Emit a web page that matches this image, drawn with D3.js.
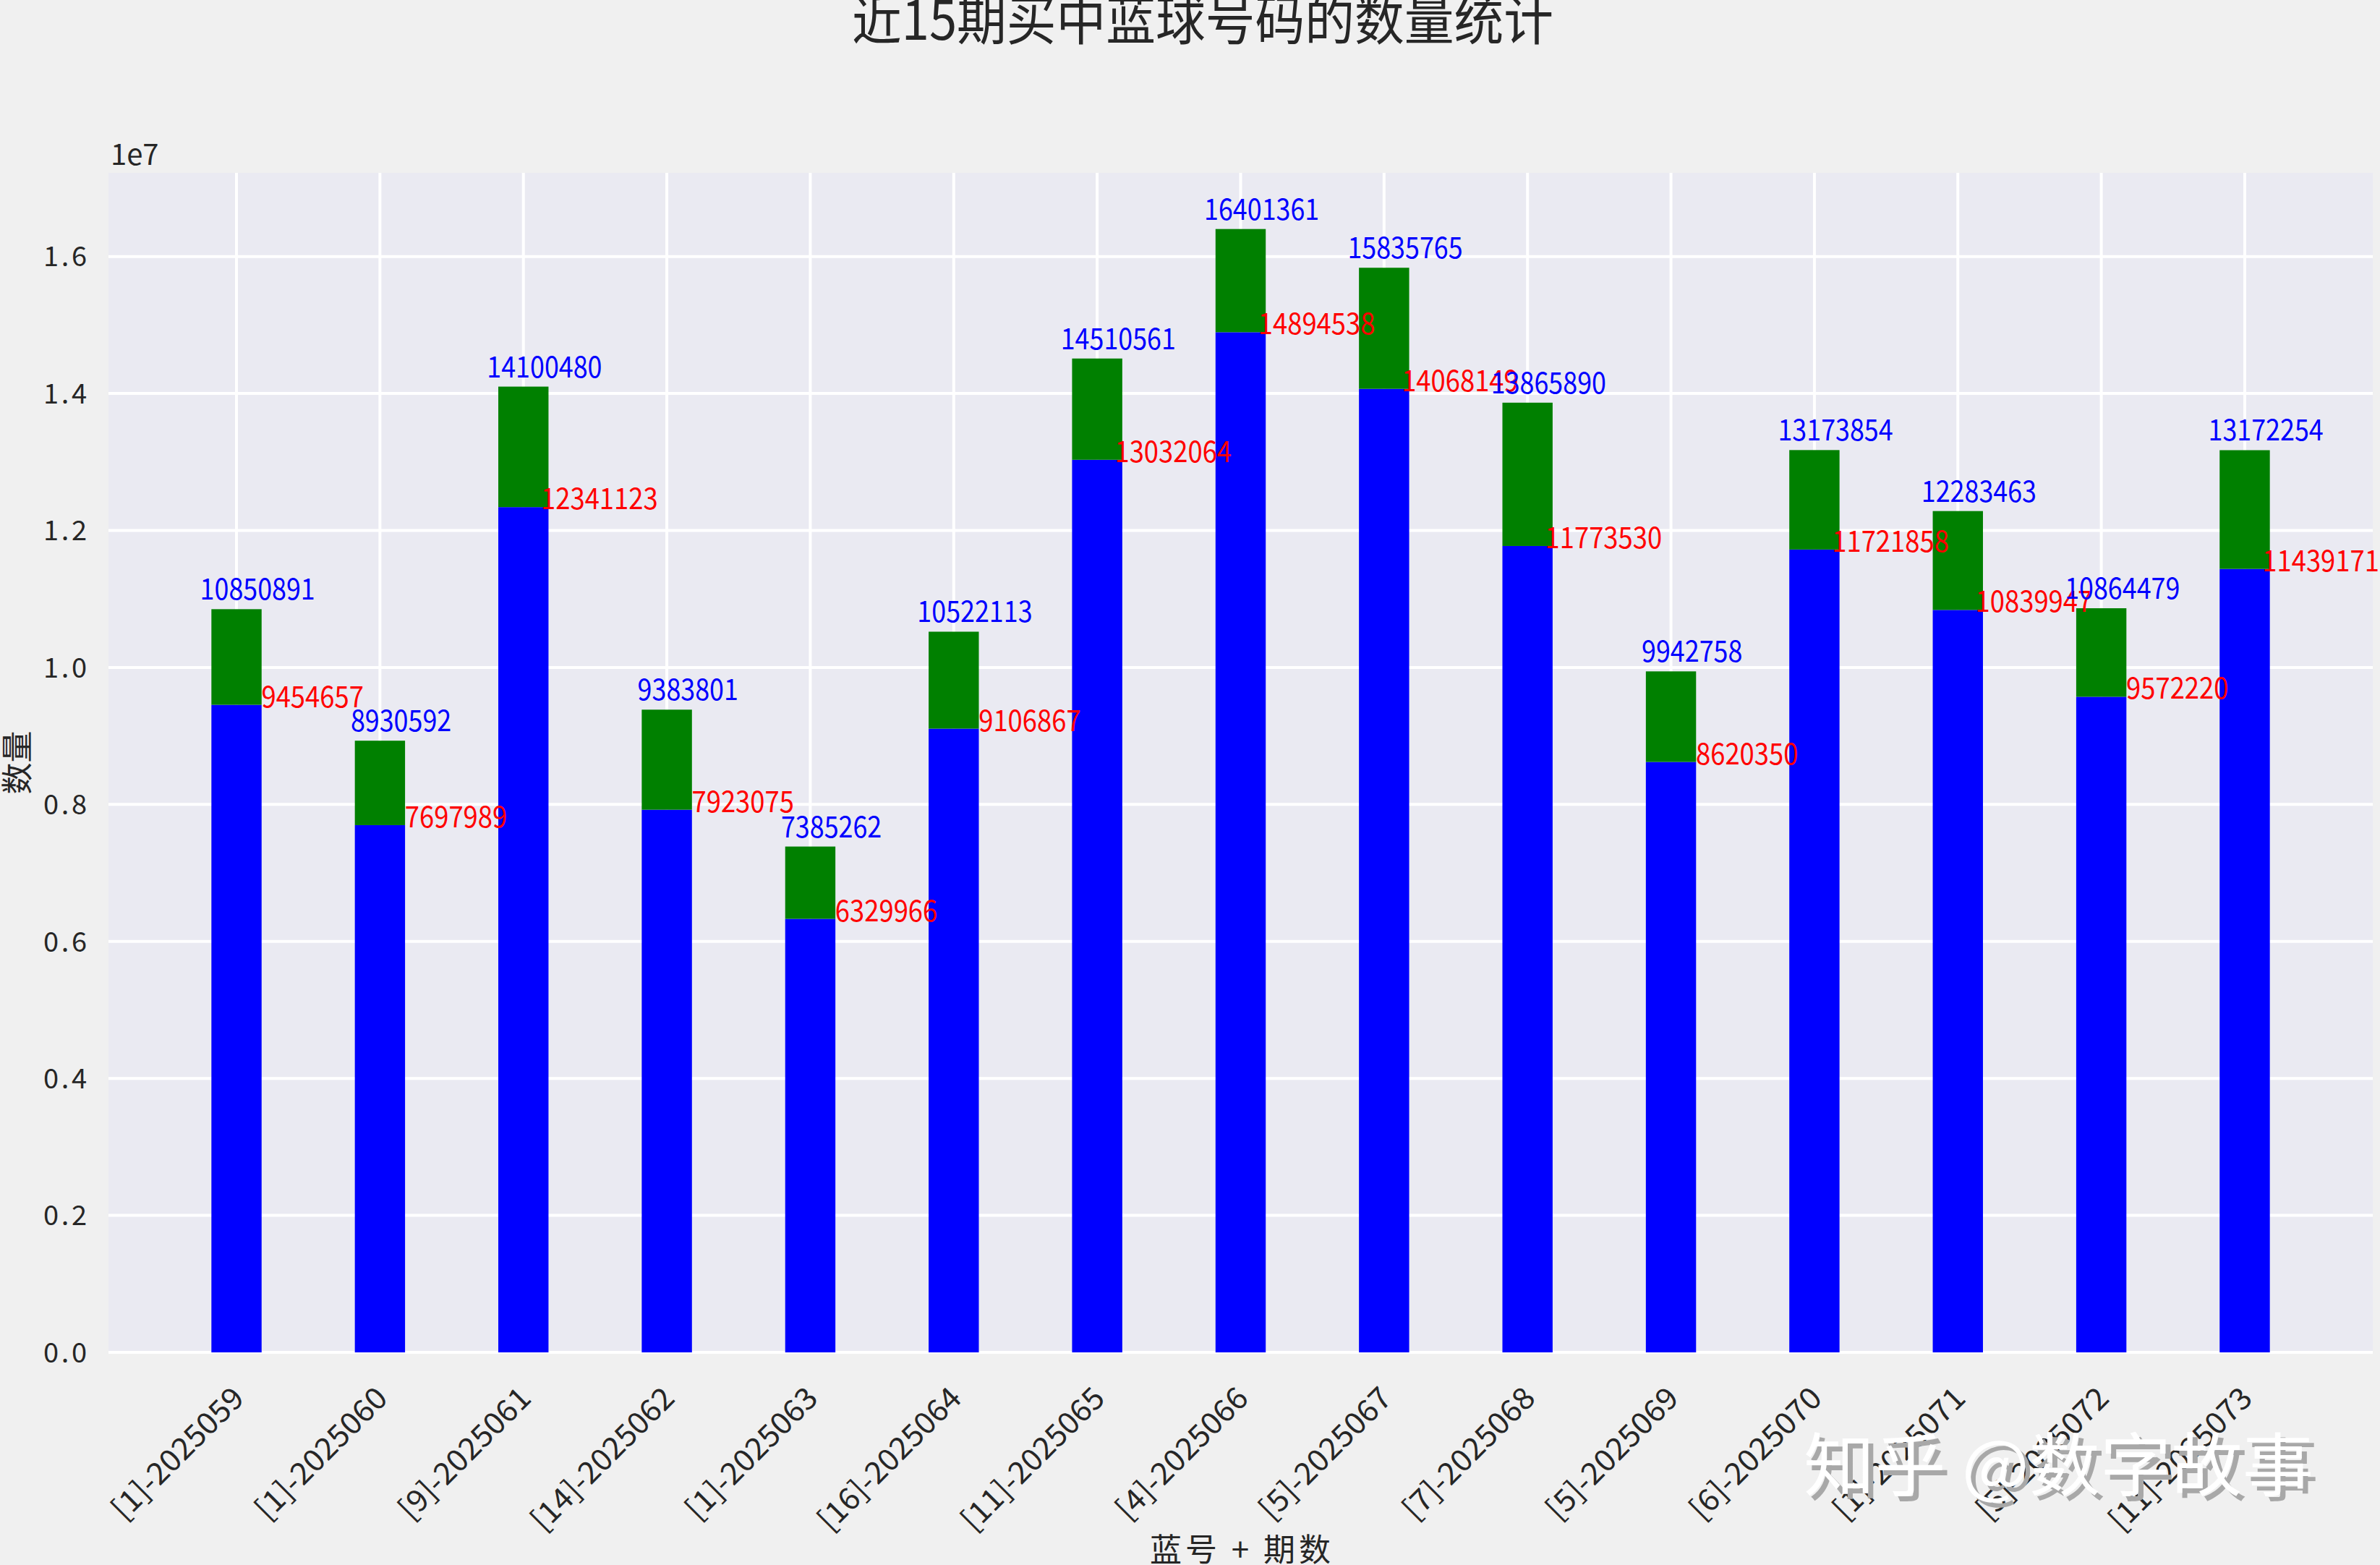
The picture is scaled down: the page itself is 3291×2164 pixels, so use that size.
<!DOCTYPE html>
<html><head><meta charset="utf-8">
<script src="https://cdn.jsdelivr.net/npm/d3@7"></script>
<style>
html,body{margin:0;padding:0;background:#f0f0f0;}
svg{display:block;}
text{font-family:"Noto Sans CJK SC","Noto Sans",sans-serif;}
</style></head>
<body><svg id="chart" width="3291" height="2164"></svg>
<script>
// ---- data ----
const categories = ["[1]-2025059","[1]-2025060","[9]-2025061","[14]-2025062","[1]-2025063","[16]-2025064","[11]-2025065","[4]-2025066","[5]-2025067","[7]-2025068","[5]-2025069","[6]-2025070","[1]-2025071","[5]-2025072","[11]-2025073"];
const totalValues = [10850891,8930592,14100480,9383801,7385262,10522113,14510561,16401361,15835765,13865890,9942758,13173854,12283463,10864479,13172254];
const blueValues  = [9454657,7697989,12341123,7923075,6329966,9106867,13032064,14894538,14068149,11773530,8620350,11721858,10839947,9572220,11439171];
const yTickValues = [0,2e6,4e6,6e6,8e6,10e6,12e6,14e6,16e6];
const yTickLabels = ["0.0","0.2","0.4","0.6","0.8","1.0","1.2","1.4","1.6"];
const titleText = "近15期买中蓝球号码的数量统计";
const xLabelText = "蓝号 + 期数";
const yLabelText = "数量";
const watermarkText = "知乎 @数字故事";

// ---- layout ----
const W = 3291, H = 2164;
const plot = {left:150, right:3281, top:239, bottom:1870};
const barW = 0.35;
const n = categories.length;
const pad = (n - 1 + barW) * 0.05;
const x = d3.scaleLinear().domain([-barW/2 - pad, n - 1 + barW/2 + pad]).range([plot.left, plot.right]);
const yMax = d3.max(totalValues) * 1.05;
const y = d3.scaleLinear().domain([0, yMax]).range([plot.bottom, plot.top]);

const svg = d3.select("#chart");
svg.append("rect").attr("width", W).attr("height", H).attr("fill", "#f0f0f0");
svg.append("rect").attr("x", plot.left).attr("y", plot.top)
   .attr("width", plot.right - plot.left).attr("height", plot.bottom - plot.top)
   .attr("fill", "#eaeaf2");

// grid
const grid = svg.append("g");
grid.selectAll("line.h").data(yTickValues).enter().append("line")
  .attr("x1", plot.left).attr("x2", plot.right)
  .attr("y1", d => y(d)).attr("y2", d => y(d))
  .attr("stroke", "#ffffff").attr("stroke-width", 4);
grid.selectAll("line.v").data(d3.range(n)).enter().append("line")
  .attr("y1", plot.top).attr("y2", plot.bottom)
  .attr("x1", d => x(d)).attr("x2", d => x(d))
  .attr("stroke", "#ffffff").attr("stroke-width", 4);

// bars
const bars = svg.append("g");
bars.selectAll("rect.blue").data(blueValues).enter().append("rect")
  .attr("x", (d,i) => x(i - barW/2)).attr("width", x(barW) - x(0))
  .attr("y", d => y(d)).attr("height", d => y(0) - y(d))
  .attr("fill", "#0000ff");
bars.selectAll("rect.green").data(totalValues).enter().append("rect")
  .attr("x", (d,i) => x(i - barW/2)).attr("width", x(barW) - x(0))
  .attr("y", d => y(d)).attr("height", (d,i) => y(blueValues[i]) - y(d))
  .attr("fill", "#008000");

// value labels
const labels = svg.append("g").attr("font-size", 41);
for (let i = 0; i < n; i++) {
  const r = String(blueValues[i]);
  labels.append("text").attr("x", x(i + 0.53)).attr("y", y(blueValues[i]) + 3)
    .attr("text-anchor", "middle").attr("fill", "#ff0000")
    .attr("textLength", r.length * 20.2).attr("lengthAdjust", "spacingAndGlyphs")
    .text(r);
  const b = String(totalValues[i]);
  labels.append("text").attr("x", x(i + 0.147)).attr("y", y(totalValues[i]) - 13)
    .attr("text-anchor", "middle").attr("fill", "#0000ff")
    .attr("textLength", b.length * 19.9).attr("lengthAdjust", "spacingAndGlyphs")
    .text(b);
}

// y axis
const yAxis = d3.axisLeft(y).tickValues(yTickValues).tickSize(0).tickPadding(0)
  .tickFormat((d,i) => yTickLabels[i]);
const yg = svg.append("g").attr("transform", `translate(120,0)`).call(yAxis);
yg.select(".domain").remove();
yg.selectAll("text").attr("font-size", 38).attr("fill", "#262626")
  .attr("font-family", '"Noto Sans CJK SC",sans-serif')
  .attr("textLength", 60).attr("lengthAdjust", "spacing").attr("dy", "0.35em").attr("x", 0);

// x axis
const xAxis = d3.axisBottom(x).tickValues(d3.range(n)).tickSize(0).tickFormat(i => categories[i]);
const xg = svg.append("g").attr("transform", `translate(0,${plot.bottom})`).call(xAxis);
xg.select(".domain").remove();
xg.selectAll(".tick text")
  .attr("font-size", 42).attr("fill", "#262626")
  .attr("font-family", '"Noto Sans CJK SC",sans-serif')
  .attr("text-anchor", "end").attr("x", 0).attr("y", 0).attr("dy", 0)
  .attr("textLength", function(i){ return categories[i].length * 21.6; })
  .attr("lengthAdjust", "spacingAndGlyphs")
  .attr("transform", "translate(12.5,66) rotate(-45)");

// offset text
svg.append("text").attr("x", 153).attr("y", 228).attr("font-size", 40).attr("fill", "#262626").text("1e7");

// title
svg.append("text").attr("x", 1663).attr("y", 55).attr("text-anchor", "middle")
  .attr("font-size", 75).attr("fill", "#262626")
  .attr("textLength", 970).attr("lengthAdjust", "spacingAndGlyphs").text(titleText);

// axis labels
svg.append("text").attr("x", 1715).attr("y", 2159).attr("text-anchor", "middle")
  .attr("font-size", 44).attr("fill", "#262626")
  .attr("textLength", 250).attr("lengthAdjust", "spacing").text(xLabelText);
svg.append("text").attr("transform", `translate(21,${(plot.top+plot.bottom)/2}) rotate(-90)`)
  .attr("text-anchor", "middle").attr("dominant-baseline", "central")
  .attr("font-size", 44).attr("fill", "#262626").text(yLabelText);

// watermark
svg.append("text").attr("x", 2501).attr("y", 2068).attr("font-size", 95).attr("fill", "#a8a8a8")
  .attr("textLength", 705).attr("lengthAdjust", "spacingAndGlyphs").text(watermarkText);
svg.append("text").attr("x", 2494).attr("y", 2061).attr("font-size", 95).attr("fill", "#ffffff")
  .attr("textLength", 705).attr("lengthAdjust", "spacingAndGlyphs").text(watermarkText);
</script></body></html>
